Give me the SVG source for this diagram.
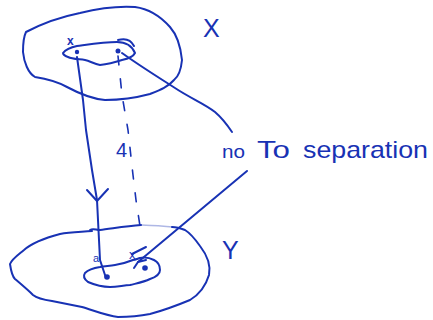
<svg xmlns="http://www.w3.org/2000/svg" width="433" height="320" viewBox="0 0 433 320">
<style>
.s{fill:none;stroke:#1832b4;stroke-width:2;stroke-linecap:round;stroke-linejoin:round}
.f{fill:none;stroke:#1832b4;stroke-width:1.6;stroke-linecap:round;stroke-linejoin:round}
.d{fill:none;stroke:#1832b4;stroke-width:1.6;stroke-dasharray:9 14;stroke-linecap:round}
.t{fill:#1832b4;font-family:"Liberation Sans",Arial,sans-serif}
.dot{fill:#1832b4}
</style>
<rect width="433" height="320" fill="#fff"/>
<g id="X">
<path class="s" d="M26,32 C45,22 65,16 80,13 C100,8 120,6 135,7 C150,9 162,18 170,27 C178,36 181,50 182,60 C181,70 178,77 174,80 C168,87 160,90 150,94 C135,98 120,100 105,100 C93,99 80,94 67,87 C58,82 48,79 35,77 C28,73 24,62 23,52 C23,42 24,36 26,32 Z"/>
<path class="s" d="M63,53 C66,49 72,47 77,46 C92,44 105,42 117,42 C126,42 132,46 135,53 C133,57 127,59 122,60 C116,62 110,64 100,65 C94,64 90,61 85,60 C78,59 72,59 68,57 C65,56 63,54 63,53 Z"/>
<circle class="dot" cx="77" cy="52" r="2.2"/>
<circle class="dot" cx="118" cy="51" r="2.5"/>
<text class="t" x="67" y="45" font-size="12" font-weight="bold">x</text>
<path class="s" d="M118,40 C125,38 131,40 134,46" stroke-width="3"/>
<text class="t" x="203" y="37" font-size="25">X</text>
</g>
<g id="Y">
<path class="s" d="M92,231 C80,232 70,232 60,234 C45,238 33,242 24,250 C18,255 12,259 10,264 C11,271 12,276 15,279 C22,285 28,290 33,295 C38,299 45,300 52,301 C62,303 72,305 82,307 C95,311 107,316 118,317 C130,317 140,316 150,314 C165,310 178,305 190,300 C200,294 206,285 209,275 C211,265 207,255 200,246 C195,239 190,233 185,230 C180,228 176,227 172,227"/>
<path class="f" d="M172,227 C160,226 150,225 141,225" stroke-opacity="0.35"/>
<path class="s" d="M141,225 C125,226 110,229 100,230 C96,230 93,228 90,230"/>
<path class="s" d="M100,267 C94,268 88,270 85,273 C83,276 84,279 88,282 C95,285 102,287 110,287 C118,287 124,285 130,285 C138,283 144,282 150,279 C156,277 160,274 160,270 C160,266 158,262 154,260 C150,258 145,257 140,258 C137,259 135,260 133,260 C128,262 122,264 115,265 C109,266 104,266 100,267 Z"/>
<circle class="dot" cx="107" cy="277" r="2.8"/>
<circle class="dot" cx="145" cy="268" r="2.8"/>
<text class="t" x="93" y="262" font-size="11">a</text>
<text class="t" x="129" y="259" font-size="13">x</text>
<text class="t" x="222" y="259" font-size="25">Y</text>
</g>
<g id="label">
<text class="t" font-size="24"><tspan x="222" y="158" font-size="18" textLength="23" lengthAdjust="spacingAndGlyphs">no</tspan><tspan x="257" y="158" textLength="33" lengthAdjust="spacingAndGlyphs">To</tspan><tspan x="303" y="158" textLength="125" lengthAdjust="spacingAndGlyphs">separation</tspan></text>
<text class="t" x="116" y="157" font-size="20">4</text>
</g>
<g id="connectors">
<path class="s" d="M77,57 L83,100 L86,130 L92,170 L97,200 L100,260 L106,278"/>
<path class="s" d="M87,190 L97,201 L108,189"/>
<path class="d" d="M118,56 L122,95 L128,130 L133,175 L136,200 L140,226"/>
<path class="s" d="M122,53 C140,66 158,77 175,88 C190,98 205,104 215,112 C222,118 228,126 232,132"/>
<path class="s" d="M247,171 L138,262"/>
<path class="s" d="M132,254 L146,247 M134,268 L138,262 L146,260"/>
</g>
</svg>
